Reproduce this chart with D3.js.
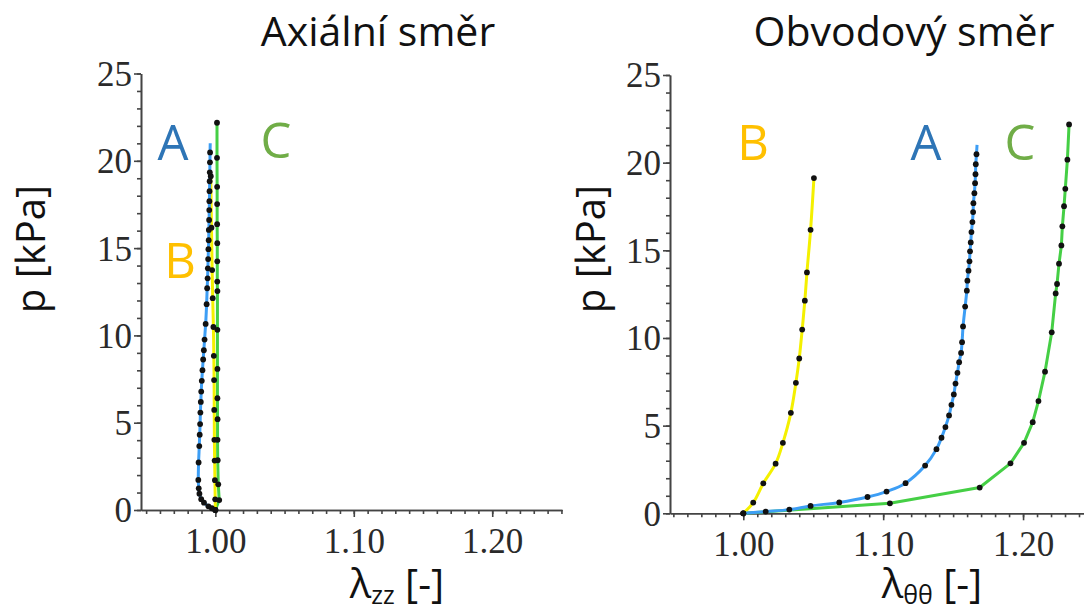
<!DOCTYPE html>
<html>
<head>
<meta charset="utf-8">
<script src="https://cdn.jsdelivr.net/npm/d3@7"></script>
<style>
  body { margin: 0; background: #fff; }
  svg { display: block; }
</style>
</head>
<body>
<div id="chart"></div>
<script>
// pressure values (kPa) for each specimen
var pA = [0, 0.10, 0.21, 0.42, 0.62, 0.93, 1.24, 1.72, 2.72, 3.66, 4.31, 4.92, 5.58, 6.19, 6.78, 7.40, 8.01, 8.62, 9.15, 9.76,
          10.66, 11.79, 12.70, 13.27, 13.84, 14.37, 14.94, 15.45, 16.04, 16.61, 17.18, 17.69, 18.26, 18.83, 19.34, 19.91, 20.48, 21.01];
var pB = [0, 0.61, 1.71, 2.83, 4.02, 5.73, 7.44, 8.83, 10.48, 12.13, 13.74, 16.17, 19.12];
var pC = [0, 0.57, 1.47, 2.85, 4.02, 5.20, 6.40, 8.08, 10.32, 12.54, 13.08, 14.24, 15.28, 16.37, 17.52, 18.51, 20.17, 22.18];

// axial stretch lambda_zz
var zzA = [1.0, 0.9975, 0.9950, 0.9918, 0.9898, 0.9885, 0.9880, 0.9877, 0.9879, 0.9884, 0.9887, 0.9890, 0.9892, 0.9895, 0.9898,
           0.9902, 0.9907, 0.9912, 0.9917, 0.9922, 0.9930, 0.9937, 0.9941, 0.9944, 0.9946, 0.9948, 0.9950, 0.9952, 0.9953,
           0.9955, 0.9956, 0.9957, 0.9958, 0.9959, 0.9960, 0.9961, 0.9962, 0.9963];
var zzB = [1.0, 0.9999, 0.9997, 0.9995, 0.9993, 0.9992, 0.9991, 0.9989, 0.9986, 0.9981, 0.9977, 0.9972, 0.9967];
var zzC = [1.0, 1.0028, 1.0021, 1.0017, 1.0016, 1.0016, 1.0015, 1.0015, 1.0015, 1.0015, 1.0014, 1.0014, 1.0014, 1.0013,
           1.0013, 1.0013, 1.0012, 1.0012];

// circumferential stretch lambda_thetatheta
var ttA = [1.0, 1.0160, 1.0329, 1.0481, 1.0686, 1.0888, 1.1024, 1.1160, 1.1300, 1.1381, 1.1417, 1.1445, 1.1471, 1.1488, 1.1505,
           1.1517, 1.1531, 1.1543, 1.1557, 1.1564, 1.1571, 1.1586, 1.1598, 1.1602, 1.1610, 1.1617, 1.1621, 1.1626, 1.1631,
           1.1638, 1.1643, 1.1645, 1.1652, 1.1657, 1.1660, 1.1662, 1.1667, 1.1671];
var ttB = [1.0, 1.0071, 1.0143, 1.0231, 1.0283, 1.0340, 1.0376, 1.0400, 1.0421, 1.0440, 1.0455, 1.0481, 1.0505];
var ttC = [1.0, 1.1048, 1.1690, 1.1910, 1.2007, 1.2069, 1.2110, 1.2157, 1.2205, 1.2233, 1.2243, 1.2257, 1.2274, 1.2281,
           1.2293, 1.2302, 1.2317, 1.2329];

// tick values
var xTicksMajor = [1.00, 1.10, 1.20];
var xTicksMinor = d3.range(95, 126).map(d => d / 100);
var yTicksMajor = [0, 5, 10, 15, 20, 25];
var yTicksMinor = d3.range(0, 26);

var svgWidth = 1084;
var svgHeight = 612;

var svg = d3.select("#chart")
    .append("svg")
    .attr("width", svgWidth)
    .attr("height", svgHeight);

var sans = "'Open Sans', 'Noto Sans', sans-serif";
var serif = "'Liberation Serif', 'DejaVu Serif', serif";

// series in drawing order (green under yellow under blue)
var series = [
    { name: "C", p: pC, zz: zzC, tt: ttC, color: "#45cf45", label: "#70ad47", curve: d3.curveLinear, dots: pC.length },
    { name: "B", p: pB, zz: zzB, tt: ttB, color: "#f4f000", label: "#ffc000", curve: d3.curveCatmullRom, dots: pB.length },
    // last point of A is the end of the line only, no marker
    { name: "A", p: pA, zz: zzA, tt: ttA, color: "#3d9ef5", label: "#2e75b6", curve: d3.curveCatmullRom, dots: pA.length - 1 }
];

var panels = [
    {
        key: "zz", title: "Axiální směr", titleX: 378, sub: "zz", subX: 397,
        left: 141, right: 562, top: 73.5, bottom: 510, xMin: 0.9463, xMax: 1.2504, yLabelX: 45,
        labels: [{ s: "A", x: 173, y: 160 }, { s: "C", x: 276, y: 158 }, { s: "B", x: 180, y: 278 }]
    },
    {
        key: "tt", title: "Obvodový směr", titleX: 904, sub: "θθ", subX: 932,
        left: 670, right: 1093, top: 75, bottom: 513.3, xMin: 0.9476, xMax: 1.25, yLabelX: 605,
        labels: [{ s: "B", x: 753, y: 160 }, { s: "A", x: 926, y: 160 }, { s: "C", x: 1020, y: 160 }]
    }
];

panels.forEach(function(cfg) {
    var xScale = d3.scaleLinear()
        .domain([cfg.xMin, cfg.xMax])
        .range([cfg.left, cfg.right]);
    var yScale = d3.scaleLinear()
        .domain([0, 25])
        .range([cfg.bottom, cfg.top]);

    var g = svg.append("g");

    // minor ticks first, then the major axis with labels
    g.append("g")
        .attr("transform", `translate(0, ${cfg.bottom})`)
        .call(d3.axisBottom(xScale).tickValues(xTicksMinor).tickSize(4).tickSizeOuter(0).tickFormat(""));
    g.append("g")
        .attr("transform", `translate(${cfg.left}, 0)`)
        .call(d3.axisLeft(yScale).tickValues(yTicksMinor).tickSize(4).tickSizeOuter(0).tickFormat(""));

    var xAxis = g.append("g")
        .attr("transform", `translate(0, ${cfg.bottom})`)
        .call(d3.axisBottom(xScale).tickValues(xTicksMajor).tickSize(7).tickSizeOuter(0).tickFormat(d3.format(".2f")));
    xAxis.selectAll("text")
        .attr("y", 43)
        .attr("dy", 0);

    var yAxis = g.append("g")
        .attr("transform", `translate(${cfg.left}, 0)`)
        .call(d3.axisLeft(yScale).tickValues(yTicksMajor).tickSize(7).tickSizeOuter(0));
    yAxis.selectAll("text")
        .attr("x", -9)
        .attr("dy", "0.34em");

    g.selectAll(".domain, .tick line")
        .attr("stroke", "#444")
        .attr("stroke-width", 1.6);
    g.selectAll(".tick text")
        .attr("font-family", serif)
        .attr("font-size", "35px")
        .attr("fill", "#2a2a2a");

    // curves
    series.forEach(function(s) {
        var pts = s.p.map((p, i) => ({ p: p, l: s[cfg.key][i] }));
        var line = d3.line()
            .x(d => xScale(d.l))
            .y(d => yScale(d.p))
            .curve(s.curve);
        g.append("path")
            .datum(pts)
            .attr("d", line)
            .attr("fill", "none")
            .attr("stroke", s.color)
            .attr("stroke-width", 3)
            .attr("stroke-linejoin", "round");
        s.pts = pts;
    });

    // black markers on top
    series.forEach(function(s) {
        g.selectAll(null)
            .data(s.pts.slice(0, s.dots))
            .enter()
            .append("circle")
            .attr("cx", d => xScale(d.l))
            .attr("cy", d => yScale(d.p))
            .attr("r", 2.9)
            .attr("fill", "#111");
    });

    // A / B / C annotations
    cfg.labels.forEach(function(lb) {
        var s = series.find(d => d.name == lb.s);
        g.append("text")
            .attr("x", lb.x)
            .attr("y", lb.y)
            .attr("text-anchor", "middle")
            .attr("font-family", sans)
            .attr("font-size", "49px")
            .attr("fill", s.label)
            .text(lb.s);
    });

    // title
    g.append("text")
        .attr("x", cfg.titleX)
        .attr("y", 46)
        .attr("text-anchor", "middle")
        .attr("font-family", sans)
        .attr("font-size", "41px")
        .attr("fill", "#111")
        .text(cfg.title);

    // x axis title with subscript
    var xt = g.append("text")
        .attr("x", cfg.subX)
        .attr("y", 598)
        .attr("text-anchor", "middle")
        .attr("font-family", sans)
        .attr("font-size", "40px")
        .attr("fill", "#111");
    xt.append("tspan").text("λ");
    xt.append("tspan").attr("font-size", "25px").attr("dy", 6).text(cfg.sub);
    xt.append("tspan").attr("dy", -6).text(" [-]");

    // y axis title
    g.append("text")
        .attr("transform", `translate(${cfg.yLabelX}, 249) rotate(-90)`)
        .attr("text-anchor", "middle")
        .attr("font-family", sans)
        .attr("font-size", "40px")
        .attr("fill", "#111")
        .text("p [kPa]");
});
</script>
</body>
</html>
